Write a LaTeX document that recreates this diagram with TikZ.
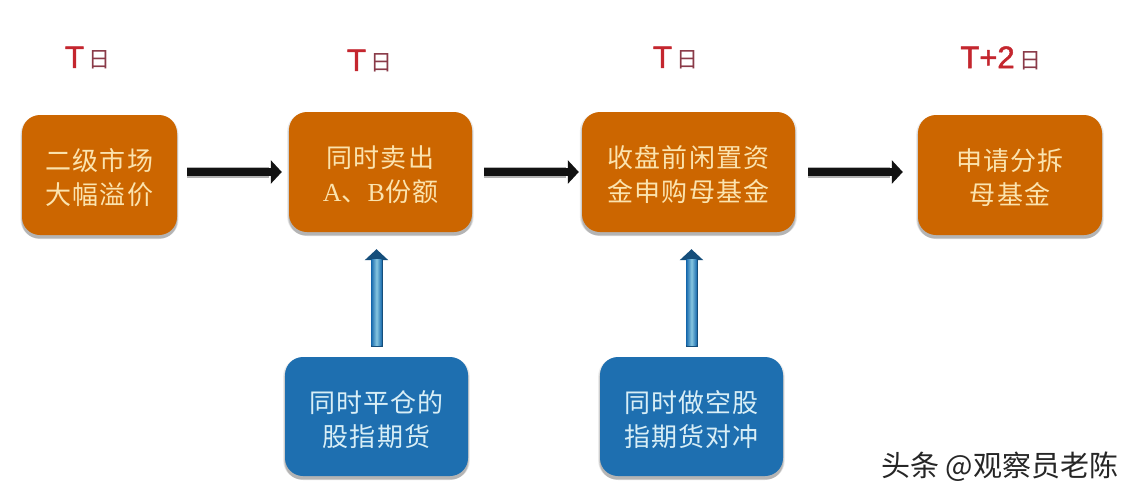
\documentclass[tikz,border=0pt]{standalone}
\usepackage{fontspec}
\setmainfont{Liberation Sans}
\newfontfamily\cjk[LetterSpace=4]{Noto Sans CJK SC}
\newfontfamily\cjkplain{Noto Sans CJK SC}
\newfontfamily\serifl[LetterSpace=4]{Liberation Serif}
\newfontfamily\titlefont[FakeBold=1.6]{Liberation Sans}
\usetikzlibrary{arrows.meta,shadows,calc}
\definecolor{boxorange}{HTML}{CC6600}
\definecolor{boxblue}{HTML}{1E6FB0}
\definecolor{creamtext}{HTML}{FBE3AE}
\definecolor{icetext}{HTML}{D8EEF6}
\definecolor{titlered}{HTML}{C4262E}
\definecolor{daygrey}{HTML}{8A3A48}
\tikzset{
  softshadow/.style={
    drop shadow={shadow xshift=0pt,shadow yshift=-2pt,shadow scale=1.02,opacity=.08,fill=black},
    drop shadow={shadow xshift=0pt,shadow yshift=-3pt,shadow scale=1.01,opacity=.12,fill=black},
    drop shadow={shadow xshift=0pt,shadow yshift=-4pt,opacity=.12,fill=black}},
  cardbox/.style={softshadow,rounded corners=18pt,inner sep=0pt,align=center,
    font=\cjk\fontsize{26}{34}\selectfont},
  orangebox/.style={cardbox,fill=boxorange,text=creamtext},
  bluebox/.style={cardbox,fill=boxblue,text=icetext},
  daylabel/.style={inner sep=0pt,text=titlered,font=\titlefont\fontsize{31}{34}\selectfont},
  flowarrow/.style={draw=black!93,line width=8pt,-{Triangle[length=11pt,width=23pt]}},
  flowhalo/.style={draw=black!30,line width=11pt},
  hedgearrow/.style={draw=boxblue!70!black,line width=12pt,-{Triangle[length=11pt,width=23pt]}},
  credit/.style={inner sep=0pt,text=black!85,font=\cjkplain\fontsize{29}{30}\selectfont}
}
\newcommand{\ri}{\kern5pt{\cjkplain\fontsize{22}{24}\selectfont\textcolor{daygrey}{日}}}
\newcommand{\cardtext}[2][150pt]{\parbox{#1}{\vspace*{6pt}\centering #2}}
\begin{document}
\begin{tikzpicture}[x=1pt,y=-1pt]
\useasboundingbox[fill=white] (0,0) rectangle (1132,498);

\node[orangebox,minimum width=155pt,minimum height=120pt] (a) at (99.5,175) {\cardtext{二级市场\\大幅溢价}};
\node[orangebox,minimum width=183pt,minimum height=120pt] (b) at (380.5,172) {\cardtext{同时卖出\\{\serifl A}、{\serifl B}份额}};
\node[orangebox,minimum width=213pt,minimum height=120pt] (c) at (688.5,172) {\cardtext[200pt]{收盘前闲置资\\金申购母基金}};
\node[orangebox,minimum width=184pt,minimum height=120pt] (d) at (1010,175) {\cardtext{申请分拆\\母基金}};
\node[bluebox,minimum width=183pt,minimum height=119pt] (e) at (376.5,416.5) {\cardtext[175pt]{同时平仓的\\股指期货}};
\node[bluebox,minimum width=183pt,minimum height=119pt] (f) at (691.5,416.5) {\cardtext[175pt]{同时做空股\\指期货对冲}};

\node[daylabel] (ta) at (88,58) {T\ri};
\node[daylabel] (tb) at (370,61) {T\ri};
\node[daylabel] (tc) at (676,58) {T\ri};
\node[daylabel] (td) at (1001,58) {T+2\ri};

% black flow connectors
\draw[flowhalo,shorten <=10pt,shorten >=20pt] (a.east |- 0,172) -- (b.west |- 0,172);
\draw[flowhalo,shorten <=12pt,shorten >=16pt] (b.east) -- (c.west);
\draw[flowhalo,shorten <=13pt,shorten >=28pt] (c.east) -- (d.west |- c.east);
\draw[flowarrow,shorten <=10pt,shorten >=7pt] (a.east |- 0,172) -- (b.west |- 0,172);
\draw[flowarrow,shorten <=12pt,shorten >=3pt] (b.east) -- (c.west);
\draw[flowarrow,shorten <=13pt,shorten >=15pt] (c.east) -- (d.west |- c.east);

% blue hedge connectors
\draw[hedgearrow,shorten <=10pt,shorten >=17pt] (e.north) -- (e.north |- b.south);
\draw[hedgearrow,shorten <=10pt,shorten >=17pt] (f.north) -- (f.north |- c.south);
\foreach \n in {e,f}{
  \shade[left color=boxblue,right color=boxblue,middle color=cyan!20!white!60!boxblue]
    ($(\n.north)+(-5,-11)$) rectangle ($(\n.north)+(5,-97)$);
}

\node[credit,anchor=west] (w) at (881,467) {头条 @观察员老陈};
\end{tikzpicture}
\end{document}
